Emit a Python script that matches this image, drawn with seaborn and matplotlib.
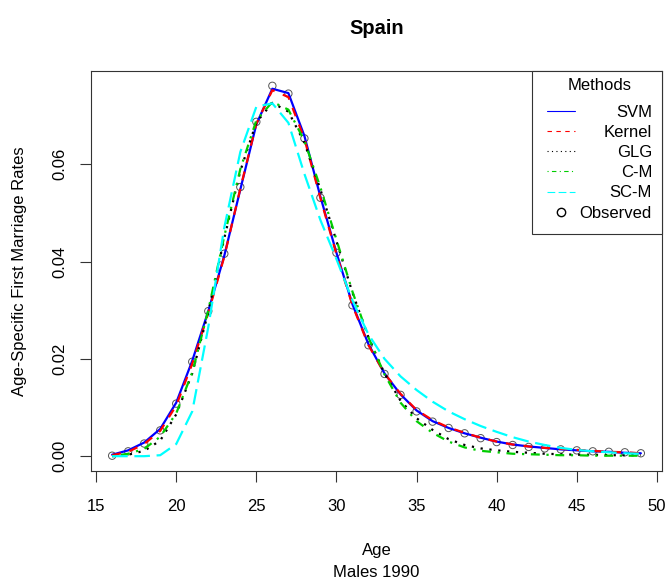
import numpy as np
import pandas as pd
import seaborn as sns
import matplotlib
matplotlib.use("Agg")
import matplotlib.pyplot as plt
from matplotlib.lines import Line2D
from matplotlib.patches import Rectangle
from matplotlib.legend_handler import HandlerLine2D

# ---------------- data ----------------
ages = list(range(16, 50))

observed = [0.0001, 0.0010, 0.0026, 0.0053, 0.0108, 0.0194, 0.0298, 0.0416, 0.0553, 0.0687,
            0.0761, 0.0745, 0.0653, 0.0531, 0.0418, 0.0310, 0.0228, 0.0169, 0.0126, 0.0092,
            0.0071, 0.0058, 0.0047, 0.0037, 0.0029, 0.0023, 0.0019, 0.0016, 0.0014, 0.0012,
            0.0010, 0.0009, 0.0008, 0.0006]

svm = [0.0003, 0.0012, 0.0028, 0.0056, 0.0110, 0.0196, 0.0298, 0.0412, 0.0548, 0.0682,
       0.0755, 0.0746, 0.0658, 0.0533, 0.0418, 0.0312, 0.0230, 0.0170, 0.0127, 0.0094,
       0.0072, 0.0058, 0.0047, 0.0038, 0.0030, 0.0024, 0.0020, 0.0017, 0.0014, 0.0012,
       0.0010, 0.0009, 0.0007, 0.0006]

kernel = [0.0002, 0.0009, 0.0025, 0.0052, 0.0104, 0.0190, 0.0294, 0.0410, 0.0550, 0.0683,
          0.0752, 0.0738, 0.0652, 0.0530, 0.0415, 0.0310, 0.0228, 0.0170, 0.0128, 0.0095,
          0.0074, 0.0059, 0.0048, 0.0038, 0.0030, 0.0024, 0.0020, 0.0017, 0.0015, 0.0013,
          0.0011, 0.0009, 0.0008, 0.0006]

glg = [0.0000, 0.0003, 0.0011, 0.0032, 0.0086, 0.0170, 0.0296, 0.0448, 0.0586, 0.0686,
       0.0726, 0.0708, 0.0644, 0.0548, 0.0442, 0.0336, 0.0244, 0.0170, 0.0114, 0.0078,
       0.0054, 0.0035, 0.0023, 0.0016, 0.0012, 0.0009, 0.0007, 0.0005, 0.0004, 0.0003,
       0.0003, 0.0002, 0.0002, 0.0002]

cm = [0.0000, 0.0005, 0.0015, 0.0040, 0.0088, 0.0172, 0.0300, 0.0452, 0.0590, 0.0690,
      0.0728, 0.0712, 0.0648, 0.0552, 0.0445, 0.0338, 0.0244, 0.0168, 0.0110, 0.0072,
      0.0048, 0.0030, 0.0018, 0.0011, 0.0008, 0.0005, 0.0004, 0.0003, 0.0002, 0.0002,
      0.0001, 0.0001, 0.0001, 0.0001]

scm = [0.0000, 0.0000, 0.0000, 0.0002, 0.0025, 0.0092, 0.0265, 0.0470, 0.0625, 0.0718,
       0.0725, 0.0685, 0.0580, 0.0485, 0.0405, 0.0320, 0.0250, 0.0200, 0.0164, 0.0136,
       0.0112, 0.0092, 0.0076, 0.0062, 0.0050, 0.0039, 0.0030, 0.0023, 0.0017, 0.0013,
       0.0010, 0.0008, 0.0006, 0.0005]

methods = ["SVM", "Kernel", "GLG", "C-M", "SC-M"]
series = [svm, kernel, glg, cm, scm]
colors = ["#0000FF", "#FF0000", "#000000", "#00CD00", "#00FFFF"]
dash_styles = ["", (4, 4), (1, 3), (1, 3, 4, 3), (7, 3)]

xticks = [15, 20, 25, 30, 35, 40, 45, 50]
yticks = [0.00, 0.02, 0.04, 0.06]
ytick_labels = ["0.00", "0.02", "0.04", "0.06"]

title = "Spain"
xlabel = "Age\nMales 1990"
ylabel = "Age-Specific First Marriage Rates"
legend_title = "Methods"

# ---------------- style ----------------
sns.set_theme(style="ticks")
plt.rcParams["font.family"] = ["Liberation Sans", "DejaVu Sans"]
plt.rcParams["text.color"] = "black"
plt.rcParams["axes.labelcolor"] = "black"
plt.rcParams["axes.edgecolor"] = "#333333"
plt.rcParams["xtick.color"] = "#333333"
plt.rcParams["ytick.color"] = "#333333"

fig = plt.figure(figsize=(6.71, 5.81), dpi=100)
ax = fig.add_axes([91 / 671, 110 / 581, 571 / 671, 400 / 581])

long = pd.DataFrame({
    "age": ages * len(methods),
    "rate": [v for s in series for v in s],
    "method": [m for m in methods for _ in ages],
})
obs_df = pd.DataFrame({"age": ages, "rate": observed})

sns.scatterplot(data=obs_df, x="age", y="rate", ax=ax, marker="o", s=28,
                facecolors="none", edgecolor="#555555", linewidth=0.7, legend=False, zorder=2)

sns.lineplot(data=long, x="age", y="rate", hue="method", style="method",
             hue_order=methods, style_order=methods,
             palette=dict(zip(methods, colors)),
             dashes=dict(zip(methods, dash_styles)),
             linewidth=1.6, ax=ax, legend=False, zorder=3)

# axes limits like R (4% padding)
xr = max(ages) - min(ages)
ax.set_xlim(min(ages) - 0.04 * xr, max(ages) + 0.04 * xr)
ymax = max(max(s) for s in series + [observed])
ax.set_ylim(-0.04 * ymax, ymax * 1.04)

ax.set_xticks(xticks)
ax.set_xticklabels([str(t) for t in xticks])
ax.set_yticks(yticks)
ax.set_yticklabels(ytick_labels, rotation=90, va="center")
ax.tick_params(axis="both", direction="out", length=8, width=0.8, labelsize=12,
               labelcolor="black")
ax.tick_params(axis="x", pad=12)
ax.tick_params(axis="y", pad=9)
for sp in ax.spines.values():
    sp.set_visible(True)
    sp.set_linewidth(0.8)
    sp.set_color("#333333")

ax.set_xlabel(xlabel, fontsize=12, labelpad=21, linespacing=1.55)
ax.set_ylabel(ylabel, fontsize=12, labelpad=18.5)
ax.set_title(title, fontsize=14.5, fontweight="bold", pad=27)

# ---------------- legend ----------------
handles = []
for c, d in zip(colors, dash_styles):
    ln = Line2D([], [], color=c, lw=0.8)
    if d:
        ln.set_dashes(d)
    handles.append(ln)
handles.append(Line2D([], [], marker="o", linestyle="none", markerfacecolor="none",
                      markeredgecolor="black", markersize=6, markeredgewidth=1.0))
labels = methods + ["Observed"]

leg = ax.legend(handles, labels, title=legend_title, loc="upper right",
                bbox_to_anchor=(1, 1 + 3.0 / 400), bbox_transform=ax.transAxes,
                borderaxespad=0, frameon=False, fontsize=12,
                title_fontsize=12, handlelength=1.65, handletextpad=0.3,
                labelspacing=0.31, borderpad=0.6,
                handler_map={Line2D: HandlerLine2D(xpad=0.0)})
leg.set_zorder(6)
# extra gap between title and entries
leg._legend_box.sep = leg._legend_box.sep + 4.7

# right-align legend labels as in R and draw R-style box
fig.canvas.draw()
renderer = fig.canvas.get_renderer()
texts = leg.get_texts()
right = max(t.get_window_extent(renderer).x1 for t in texts)
inv = fig.transFigure.inverted()
last_baseline = None
for t in texts:
    bx, by = t.get_transform().transform((0, 0))
    fx, fy = inv.transform((right, by))
    fig.text(fx, fy, t.get_text(), ha="right", va="baseline", fontsize=12,
             color="black", zorder=7)
    t.set_visible(False)
    last_baseline = by

lb = leg.get_window_extent(renderer)
ab = ax.get_window_extent(renderer)
x0 = lb.x0 - 5
y0 = last_baseline - 16
(fx0, fy0) = inv.transform((x0, y0))
(fx1, fy1) = inv.transform((ab.x1, ab.y1))
box = Rectangle((fx0, fy0), fx1 - fx0, fy1 - fy0, transform=fig.transFigure,
                fill=True, facecolor="white", edgecolor="#333333",
                linewidth=0.8, zorder=4, clip_on=False)
ax.add_artist(box)

fig.savefig("out.png", dpi=100)
